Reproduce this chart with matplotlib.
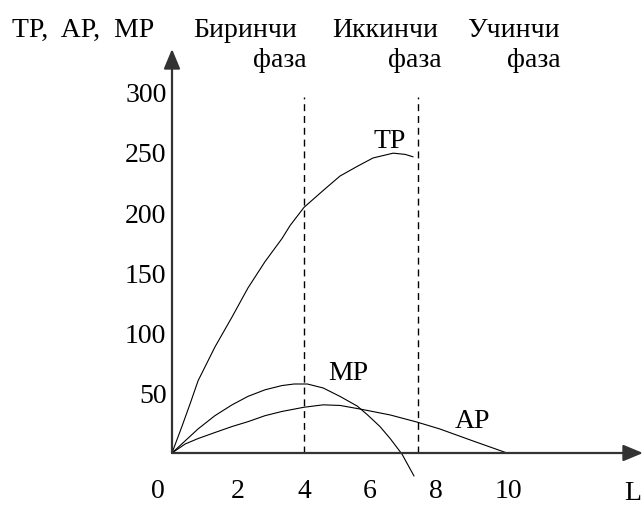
import matplotlib
matplotlib.use('Agg')
import matplotlib.pyplot as plt
import matplotlib.transforms as mtransforms

plt.rcParams['font.family'] = ['Liberation Serif', 'DejaVu Serif']

# values
L_tp = [0, 0.30, 0.55, 0.79, 1.30, 1.82, 2.30, 2.82, 3.33, 3.58, 4.0, 4.58, 5.09, 5.61, 6.09, 6.70, 7.06, 7.30]
tp = [0, 22, 41, 60, 88, 113, 137, 159, 178, 189, 204, 218, 230, 238, 245, 249, 248, 246]

L_mp = [0, 0.79, 1.30, 1.82, 2.30, 2.82, 3.33, 3.70, 4.10, 4.58, 5.09, 5.61, 5.91, 6.30, 6.61, 6.97, 7.33]
mp = [0, 20, 31, 40, 47, 52.5, 56, 57.3, 57.3, 54, 47, 39, 32, 22, 12, -1, -19]

L_ap = [0, 0.40, 0.79, 1.30, 1.82, 2.30, 2.82, 3.33, 4.0, 4.58, 5.09, 5.70, 6.61, 7.42, 8.12, 9.12, 10.15]
ap = [0, 7.5, 12, 17, 22, 26, 31, 34.5, 38, 40, 39.5, 36.5, 31.6, 25.7, 19.9, 10, 0]

phase_bounds = [4.0, 7.45]
phase_top = 296

x_ticks = [0, 2, 4, 6, 8, 10]
y_ticks = [50, 100, 150, 200, 250, 300]

W, H = 644, 506
fig = plt.figure(figsize=(W / 100, H / 100), dpi=100)
# axes box in pixels: origin (172, 454), arrow tips at x=643, y=50
ax = fig.add_axes([172 / W, (H - 454) / H, (643 - 172) / W, (454 - 50) / H])
ax.set_xlim(0, 14.27)
ax.set_ylim(0, 335.5)
for s in ax.spines.values():
    s.set_visible(False)

lw = 0.8
ax.plot(L_tp, tp, color='black', lw=lw, clip_on=False)
ax.plot(L_mp, mp, color='black', lw=lw, clip_on=False)
ax.plot(L_ap, ap, color='black', lw=lw, clip_on=False)
for b in phase_bounds:
    ax.plot([b, b], [0, phase_top], color='black', lw=1.0, dashes=(5, 3.5))

# axis arrows
arrow = dict(arrowstyle='-|>,head_length=12,head_width=5', mutation_scale=1,
             color='#333333', lw=1.6, shrinkA=0, shrinkB=0)
ax.annotate('', xy=(1, 0), xytext=(0, 0), xycoords='axes fraction', arrowprops=arrow)
ax.annotate('', xy=(0, 1), xytext=(0, 0), xycoords='axes fraction', arrowprops=arrow)

fs = 20
ax.set_xticks(x_ticks)
ax.set_xticklabels([str(v) for v in x_ticks], fontsize=fs)
ax.set_yticks(y_ticks)
ax.set_yticklabels([str(v) for v in y_ticks], fontsize=fs)
ax.tick_params(axis='x', length=0, pad=18)
ax.tick_params(axis='y', length=0, pad=4)
xl = ax.get_xticklabels()
xl[0].set_transform(xl[0].get_transform() + mtransforms.ScaledTranslation(-0.14, 0, fig.dpi_scale_trans))
xl[-1].set_transform(xl[-1].get_transform() + mtransforms.ScaledTranslation(0.06, 0, fig.dpi_scale_trans))

# curve names
ax.text(6.09, 254, 'TP', fontsize=fs, ha='left', va='baseline')
ax.text(4.73, 61.5, 'MP', fontsize=fs, ha='left', va='baseline')
ax.text(8.58, 21.6, 'AP', fontsize=fs, ha='left', va='baseline')


def ftext(x, y, s, ha):
    fig.text(x / W, 1 - y / H, s, fontsize=fs, ha=ha, va='baseline')


ftext(12, 37, 'TP,  AP,  MP', 'left')
ftext(193, 37, 'Биринчи', 'left')
ftext(307, 67, 'фаза', 'right')
ftext(332, 37, 'Иккинчи', 'left')
ftext(442, 67, 'фаза', 'right')
ftext(467, 37, 'Учинчи', 'left')
ftext(561, 67, 'фаза', 'right')
ftext(633, 500, 'L', 'center')

fig.savefig('out.png', dpi=100)
